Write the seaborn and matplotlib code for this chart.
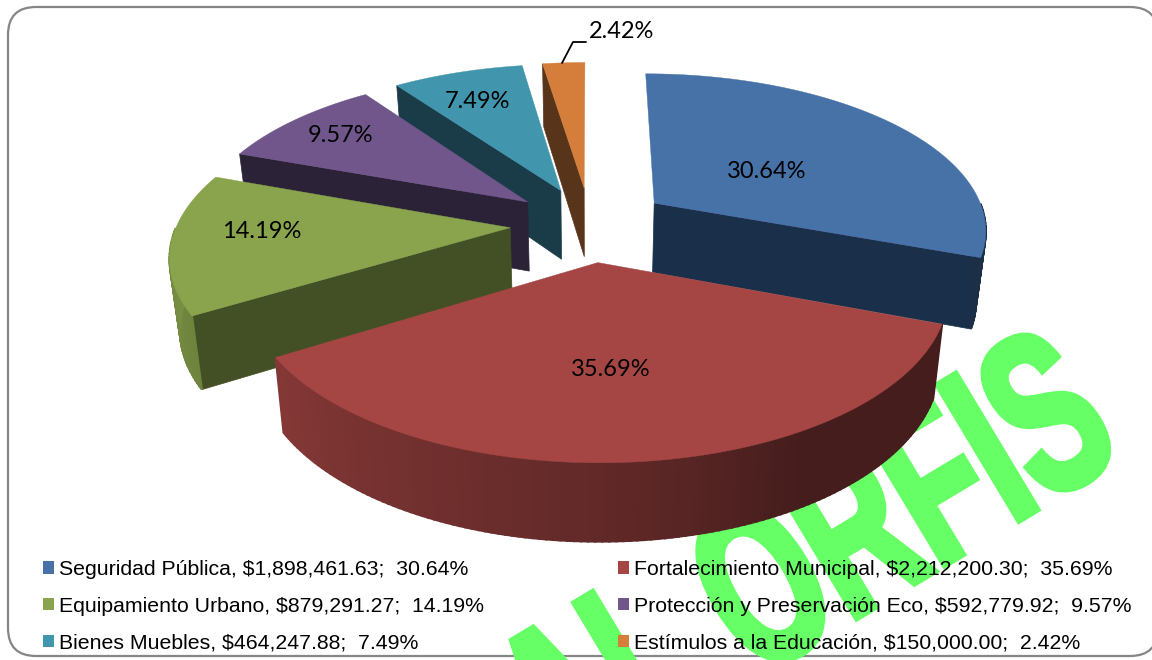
import numpy as np
import matplotlib
matplotlib.use('Agg')
import matplotlib.pyplot as plt
import matplotlib.patheffects as pe
from matplotlib.patches import FancyBboxPatch, Patch
from matplotlib.transforms import Affine2D
import seaborn as sns

# data
names = ['Seguridad Pública', 'Fortalecimiento Municipal', 'Equipamiento Urbano',
         'Protección y Preservación Eco', 'Bienes Muebles', 'Estímulos a la Educación']
amounts = [1898461.63, 2212200.30, 879291.27, 592779.92, 464247.88, 150000.00]
percents = [30.64, 35.69, 14.19, 9.57, 7.49, 2.42]

# style
top_colors = ['#4672A8', '#A54644', '#89A44D', '#71568C', '#4195AD', '#D57E3C']
wall_colors = ['#1A2F4A', '#431A18', '#434F24', '#2C2238', '#1A3C48', '#58341A']
label_xy = [(767, 171), (611, 370), (262, 232), (341, 136), (478, 101), (622, 31)]
draw_order = [0, 5, 4, 3, 2, 1]

# pie projection, in pixels
CX, CY, RX, RY, DEPTH = 590, 224, 333, 155.5, 70
EXPLODE = 0.24
PERSP = 0.156


def project(px, py, down=0.0):
    w = 1 + PERSP * py
    x = CX + RX * px / w * (1 - 0.025 * down)
    return x, CY - RY * py / w + down * DEPTH / (1 + 0.09 * py)


class Squeeze(pe.AbstractPathEffect):
    # narrows the letters along the baseline and fattens them, like the stretched watermark
    def __init__(self, factor, angle, grow):
        super().__init__()
        self.factor = factor
        self.angle = angle
        self.grow = grow

    def draw_path(self, renderer, gc, tpath, affine, rgbFace=None):
        m = affine.get_matrix()
        ox, oy = m[0, 2], m[1, 2]
        extra = (Affine2D().translate(-ox, -oy).rotate_deg(-self.angle)
                 .scale(self.factor, 1).rotate_deg(self.angle).translate(ox, oy))
        gc0 = renderer.new_gc()
        gc0.copy_properties(gc)
        gc0.set_linewidth(self.grow)
        gc0.set_foreground(rgbFace)
        gc0.set_joinstyle('miter')
        renderer.draw_path(gc0, tpath, affine + extra, rgbFace)
        gc0.restore()


sns.set_theme(style='white')
plt.rcParams['font.family'] = ['Liberation Sans', 'DejaVu Sans']

fig = plt.figure(figsize=(11.52, 6.6), dpi=100)
ax = fig.add_axes([0, 0, 1, 1])
ax.set_xlim(0, 1152)
ax.set_ylim(660, 0)
ax.axis('off')

ax.add_patch(FancyBboxPatch((8, 7), 1150, 649, boxstyle='round,pad=0,rounding_size=28',
                            fc='white', ec='#868686', lw=1.6, zorder=0))
ax.text(560, 796, 'AL ORFIS', rotation=31, rotation_mode='anchor', ha='left', va='baseline',
        fontsize=165, fontweight='bold', color='#66FF66', zorder=1, clip_on=True,
        path_effects=[Squeeze(0.62, 31, 5)])

values = np.array(amounts)
edges = np.concatenate([[0], np.cumsum(values) / values.sum() * 360])

z = 2
for i in draw_order:
    a0, a1 = edges[i], edges[i + 1]
    mid = np.radians((a0 + a1) / 2)
    ox, oy = EXPLODE * np.sin(mid), EXPLODE * np.cos(mid)
    theta = np.linspace(a0, a1, max(int(a1 - a0), 6) + 1)
    rad = np.radians(theta)
    rim_x, rim_y = ox + np.sin(rad), oy + np.cos(rad)

    # flat walls along the two cut edges, only where they face the viewer
    sx, sy = project(rim_x, rim_y)
    apx, apy = project(ox, oy)
    mx, my = sx[len(sx) // 2], sy[len(sy) // 2]
    for k in (0, -1):
        ex, ey = sx[k] - apx, sy[k] - apy
        if abs(ex) < 20:
            continue
        if my < apy + ey * (mx - apx) / ex:
            bx, by = project(np.array([ox, rim_x[k]]), np.array([oy, rim_y[k]]), 1.0)
            ax.fill([apx, sx[k], bx[1], bx[0]], [apy, sy[k], by[1], by[0]],
                    color=wall_colors[i], lw=0.5, zorder=z)

    # outer wall, shaded lighter toward the left
    base = np.array(matplotlib.colors.to_rgb(top_colors[i]))
    for t0, t1 in zip(theta[:-1], theta[1:]):
        tm = (t0 + t1) / 2
        if tm < 90 or tm > 270:
            continue
        shade = np.interp(tm, [110, 150, 175, 238, 270], [0.41, 0.42, 0.57, 0.8, 0.88])
        r0, r1 = np.radians(t0), np.radians(t1)
        qx = ox + np.sin([r0, r1])
        qy = oy + np.cos([r0, r1])
        tx, ty = project(qx, qy)
        bx, by = project(qx, qy, 1.0)
        ax.fill([tx[0], tx[1], bx[1], bx[0]], [ty[0], ty[1], by[1], by[0]],
                color=base * shade, lw=1.5, zorder=z)

    # top face
    ax.fill(np.r_[apx, sx], np.r_[apy, sy], color=top_colors[i], lw=0.3, zorder=z + 1)
    z += 2

for pct, (lx, ly) in zip(percents, label_xy):
    ax.text(lx, ly, f'{pct:.2f}%', ha='center', va='center', fontsize=17,
            family=['Lato', 'DejaVu Sans'], color='black', zorder=30)

ax.plot([562, 573, 586], [63, 42, 42], color='black', lw=1.3, zorder=30)

labels = [f'{n}, ${a:,.2f};  {p:.2f}%' for n, a, p in zip(names, amounts, percents)]
handles = [Patch(facecolor=c, edgecolor='none') for c in top_colors]
# legend fills by column, the chart reads by row
order = [0, 2, 4, 1, 3, 5]
ax.legend([handles[i] for i in order], [labels[i] for i in order], ncol=2, frameon=False,
          loc='upper left', bbox_to_anchor=(43, 560), bbox_transform=ax.transData,
          borderpad=0, borderaxespad=0, fontsize=15.3, handlelength=0.52, handleheight=0.52,
          handletextpad=0.24, labelspacing=0.83, columnspacing=6.3,
          labelcolor='black').set_zorder(40)

fig.savefig('out.png', dpi=100)
